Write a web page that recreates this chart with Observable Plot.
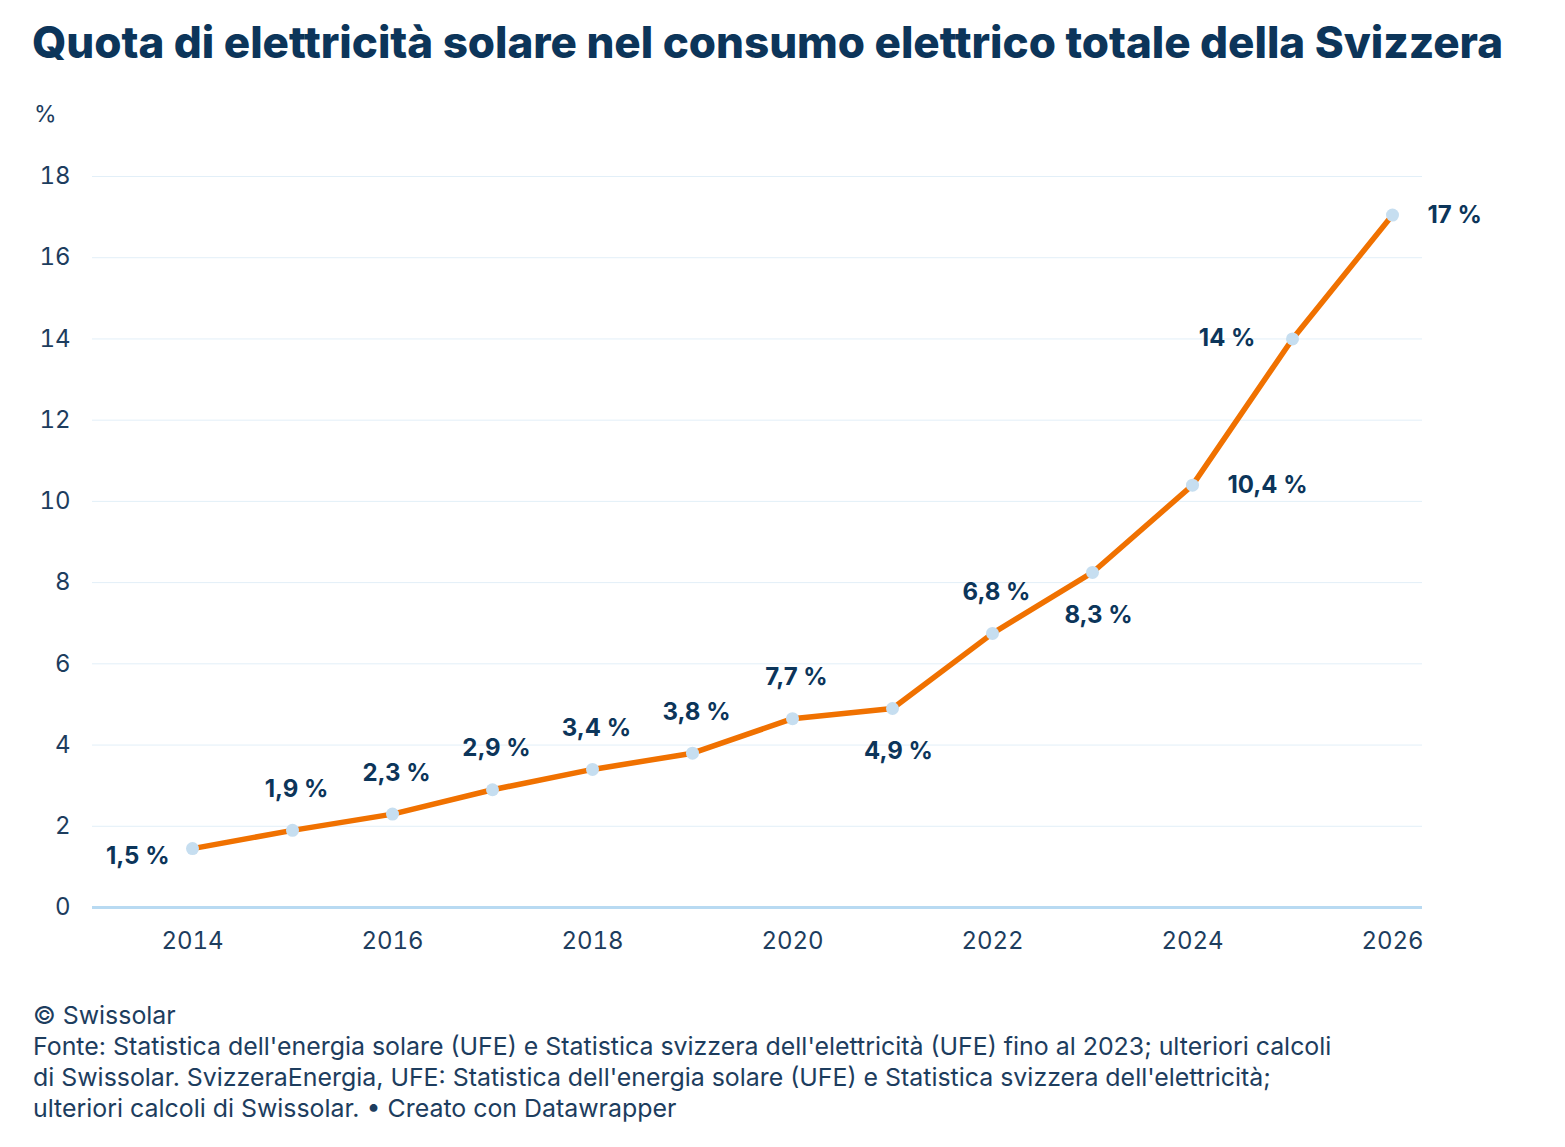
<!DOCTYPE html>
<html>
<head>
<meta charset="utf-8">
<script src="https://cdn.jsdelivr.net/npm/d3@7"></script>
<script src="https://cdn.jsdelivr.net/npm/@observablehq/plot@0.6"></script>
<style>
  html, body { margin: 0; padding: 0; background: #fff; }
  body { width: 1565px; height: 1147px; position: relative; font-family: Inter, "Noto Sans", sans-serif; color: #0e3558; }
  #title { position: absolute; left: 32px; top: 15px; font-size: 44px; font-weight: 800; letter-spacing: -0.05px; white-space: nowrap; color: #0c355a; }
  #unit { position: absolute; left: 34px; top: 100px; font-size: 23px; color: #1d3d5e; }
  #chart { position: absolute; left: 0; top: 90px; }
  #footer { position: absolute; left: 33px; top: 1000px; font-size: 24.9px; line-height: 31px; color: #1d3d5e; white-space: nowrap; }
</style>
</head>
<body>
<div id="title">Quota di elettricità solare nel consumo elettrico totale della Svizzera</div>
<div id="unit">%</div>
<div id="chart"></div>
<div id="footer">© Swissolar<br>Fonte: Statistica dell'energia solare (UFE) e Statistica svizzera dell'elettricità (UFE) fino al 2023; ulteriori calcoli<br>di Swissolar. SvizzeraEnergia, UFE: Statistica dell'energia solare (UFE) e Statistica svizzera dell'elettricità;<br>ulteriori calcoli di Swissolar. • Creato con Datawrapper</div>
<script>
// Data
const years = [2014, 2015, 2016, 2017, 2018, 2019, 2020, 2021, 2022, 2023, 2024, 2025, 2026];
const shares = [1.45, 1.9, 2.3, 2.9, 3.4, 3.8, 4.65, 4.9, 6.75, 8.25, 10.4, 14.0, 17.05];
const valueLabels = ["1,5 %", "1,9 %", "2,3 %", "2,9 %", "3,4 %", "3,8 %", "7,7 %", "4,9 %", "6,8 %", "8,3 %", "10,4 %", "14 %", "17 %"];
const labelSide = ["lowerLeft", "above", "above", "above", "above", "above", "above", "below", "above", "below", "right", "left", "right"];
const xTicks = [2014, 2016, 2018, 2020, 2022, 2024, 2026];
const yTicks = [0, 2, 4, 6, 8, 10, 12, 14, 16, 18];

const data = years.map((year, i) => ({year, share: shares[i], label: valueLabels[i], side: labelSide[i]}));

const navy = "#0c355a";
const labelStyle = {x: "year", y: "share", text: "label", fill: navy, fontSize: 24, fontWeight: 700, fontFamily: "Inter, sans-serif"};
const bySide = s => data.filter(d => d.side === s);

const chart = Plot.plot({
  width: 1565,
  height: 880,
  marginLeft: 92,
  marginRight: 143,
  marginTop: 86,
  marginBottom: 63,
  style: {fontFamily: "Inter, sans-serif", color: "#1d3d5e", background: "transparent"},
  x: {domain: [2013, 2026.3]},
  y: {domain: [0, 18]},
  marks: [
    Plot.gridY(yTicks.filter(d => d !== 0), {stroke: "#e2eff8", strokeOpacity: 1}),
    Plot.ruleY([0], {stroke: "#b8daf2", strokeWidth: 3}),
    Plot.axisY(yTicks, {tickSize: 0, tickPadding: 22, fontSize: 24, fill: "#1d3d5e", label: null}),
    Plot.axisX(xTicks, {tickSize: 0, tickPadding: 24, fontSize: 24, fill: "#1d3d5e", tickFormat: d => String(d), label: null}),
    Plot.line(data, {x: "year", y: "share", stroke: "#f07100", strokeWidth: 5.5, curve: "linear"}),
    Plot.dot(data, {x: "year", y: "share", r: 6.5, fill: "#c6def0", stroke: "none"}),
    Plot.text(bySide("above"), {...labelStyle, dx: 4, dy: -41}),
    Plot.text(bySide("below"), {...labelStyle, dx: 6, dy: 43}),
    Plot.text(bySide("lowerLeft"), {...labelStyle, textAnchor: "end", dx: -23, dy: 8}),
    Plot.text(bySide("left"), {...labelStyle, textAnchor: "end", dx: -37, dy: -1}),
    Plot.text(bySide("right"), {...labelStyle, textAnchor: "start", dx: 35, dy: 0})
  ]
});
document.getElementById("chart").appendChild(chart);
</script>
</body>
</html>
